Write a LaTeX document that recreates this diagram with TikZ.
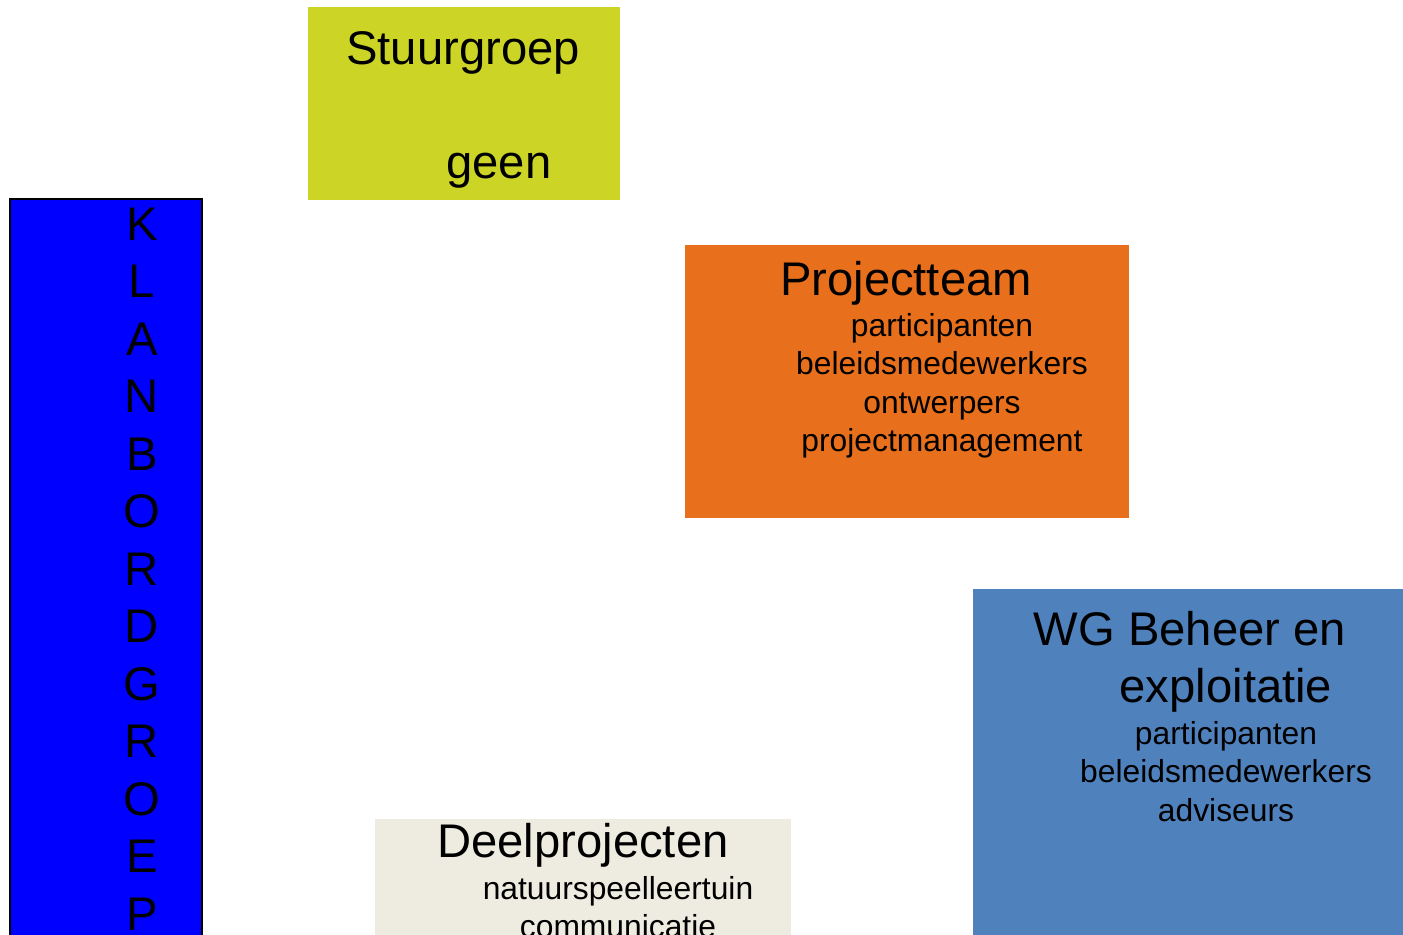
\documentclass[tikz,border=0pt]{standalone}
\usepackage{fontspec}
\setmainfont{Liberation Sans}
\usepackage{xcolor}
\usepackage{tikz}
\usetikzlibrary{positioning}
\definecolor{stuurgeel}{RGB}{204,212,38}
\definecolor{teamoranje}{RGB}{232,112,28}
\definecolor{wgblauw}{RGB}{79,129,189}
\definecolor{deelbeige}{RGB}{238,236,225}
\newcommand{\kop}{\fontsize{23.6}{28}\selectfont}
\newcommand{\regel}{\fontsize{15.9}{19}\selectfont}

\begin{document}
\begin{tikzpicture}[x=0.5pt,y=-0.5pt,
  kopnode/.style={anchor=base,inner sep=0pt,font=\kop},
  regelnode/.style={anchor=base,inner sep=0pt,font=\regel}]
  \useasboundingbox (0,0) rectangle (1403,934);
  \clip (0,0) rectangle (1403,934);
  % vlakken
  \fill[stuurgeel] (308,7) rectangle (620,200);
  \filldraw[fill=blue,draw=black,line width=1pt] (10,199) rectangle (202,960);
  \fill[teamoranje] (685,245) rectangle (1129,518);
  \fill[wgblauw] (973,589) rectangle (1420,960);
  \fill[deelbeige] (375,819) rectangle (791,960);
  % stuurgroep
  \node[kopnode] (stuur) at (463,64) {Stuurgroep};
  \node[kopnode] (geen) at (499,178) {geen};
  % klankbordgroep, letter voor letter
  \foreach \l [count=\i from 0] in {K,L,A,N,B,O,R,D,G,R,O,E,P}
    \node[kopnode] (klank\i) at (142,240+57.5*\i) {\l};
  % projectteam
  \node[kopnode] (team) at (906,295) {Projectteam};
  \node[regelnode] (team1) at (942,336) {participanten};
  \node[regelnode] (team2) at (942,374.5) {beleidsmedewerkers};
  \node[regelnode] (team3) at (942,413) {ontwerpers};
  \node[regelnode] (team4) at (942,451.5) {projectmanagement};
  % werkgroep beheer
  \node[kopnode] (wg) at (1190,645) {WG Beheer en};
  \node[kopnode] (wgb) at (1226,702) {exploitatie};
  \node[regelnode] (wg1) at (1226,744) {participanten};
  \node[regelnode] (wg2) at (1226,782.5) {beleidsmedewerkers};
  \node[regelnode] (wg3) at (1226,821) {adviseurs};
  % deelprojecten
  \node[kopnode] (deel) at (583,857) {Deelprojecten};
  \node[regelnode] (deel1) at (618,899) {natuurspeelleertuin};
  \node[regelnode] (deel2) at (618,937) {communicatie};
\end{tikzpicture}
\end{document}
